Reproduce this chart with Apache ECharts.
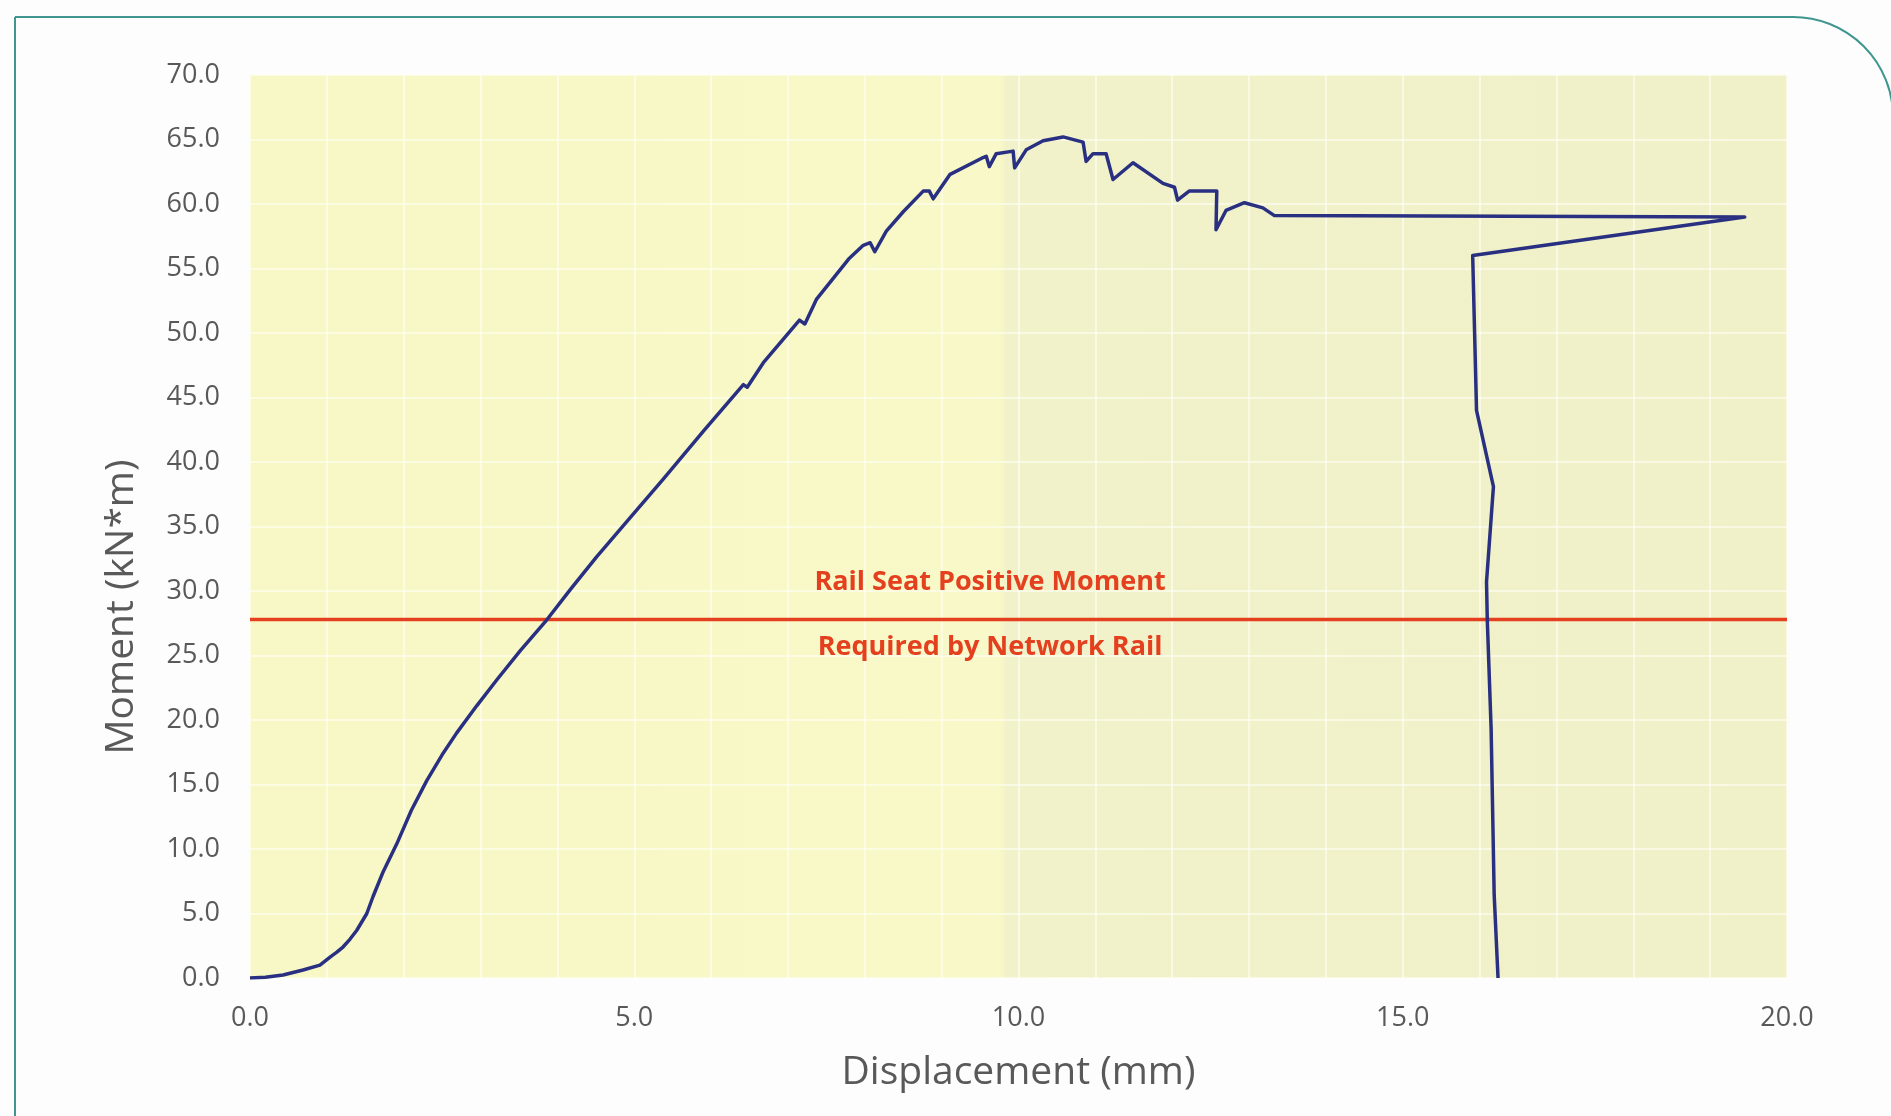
<!DOCTYPE html>
<html>
<head>
<meta charset="utf-8">
<script src="https://cdn.jsdelivr.net/npm/echarts@6/dist/echarts.min.js"></script>
<style>
  html, body { margin: 0; padding: 0; background: #fdfdfd; }
  #main { width: 1891px; height: 1116px; }
</style>
</head>
<body>
<div id="main"></div>
<script>
// 位移 (mm) / 弯矩 (kN*m)
var dispData = [0, 0.20, 0.43, 0.69, 0.91, 1.05, 1.13, 1.21, 1.30, 1.39, 1.52, 1.60, 1.73, 1.91, 2.10, 2.30, 2.50, 2.69,
    2.95, 3.21, 3.52, 3.86, 4.18, 4.51, 4.95, 5.38, 5.90, 6.42, 6.47, 6.68, 7.15, 7.22, 7.37, 7.80, 7.98, 8.07, 8.13,
    8.28, 8.50, 8.76, 8.84, 8.89, 9.11, 9.54, 9.58, 9.62, 9.71, 9.93, 9.95, 10.10, 10.32, 10.58, 10.84, 10.88, 10.97,
    11.14, 11.23, 11.49, 11.88, 12.03, 12.07, 12.22, 12.58, 12.57, 12.70, 12.94, 13.18, 13.33, 19.45, 15.91, 15.96,
    16.18, 16.09, 16.10, 16.15, 16.19, 16.24];
var momentData = [0, 0.05, 0.23, 0.62, 1.0, 1.66, 2.0, 2.4, 3.0, 3.7, 5.0, 6.3, 8.2, 10.4, 13.0, 15.3, 17.3, 19.0,
    21.1, 23.1, 25.4, 27.75, 30.2, 32.65, 35.7, 38.7, 42.4, 46.0, 45.8, 47.7, 51.0, 50.7, 52.6, 55.8, 56.8, 57.0, 56.3,
    57.9, 59.4, 61.0, 61.0, 60.4, 62.3, 63.6, 63.7, 62.9, 63.9, 64.1, 62.8, 64.2, 64.9, 65.2, 64.8, 63.3, 63.9,
    63.9, 61.9, 63.2, 61.6, 61.3, 60.3, 61.0, 61.0, 58.0, 59.5, 60.1, 59.7, 59.1, 59.0, 56.0, 44.0,
    38.1, 30.7, 27.75, 19.3, 6.4, 0];
var requiredMoment = 27.8;
var xTicks = { min: 0, max: 20, step: 5 };
var yTicks = { min: 0, max: 70, step: 5 };
var labelTop = 'Rail Seat Positive Moment';
var labelBottom = 'Required by Network Rail';
var labelX = 9.63;

var curve = [];
for (var i = 0; i < dispData.length; i++) {
    curve.push([dispData[i], momentData[i]]);
}

var dom = document.getElementById('main');
var myChart = echarts.init(dom);
var txtColor = '#595959';
var gridColor = 'rgba(255, 255, 245, 0.8)';

myChart.setOption({
    backgroundColor: '#fdfdfd',
    animation: false,
    textStyle: { fontFamily: 'Open Sans' },
    graphic: [
        {
            // 外框
            type: 'rect',
            shape: { x: 15, y: 17, width: 1878, height: 1200, r: [0, 100, 0, 0] },
            style: { fill: 'none', stroke: '#3f968f', lineWidth: 2 },
            z: -1
        },
        {
            // y轴标题
            type: 'text',
            x: 122,
            y: 607,
            rotation: Math.PI / 2,
            style: {
                text: 'Moment (kN*m)',
                fill: txtColor,
                font: '39px "Open Sans"',
                align: 'center',
                verticalAlign: 'middle'
            }
        }
    ],
    grid: {
        left: 250,
        right: 104,
        top: 75,
        bottom: 138,
        show: true,
        borderWidth: 0,
        backgroundColor: {
            type: 'linear', x: 0, y: 0, x2: 1, y2: 0,
            colorStops: [
                { offset: 0, color: '#f8f8c6' },
                { offset: 0.488, color: '#f8f8c8' },
                { offset: 0.492, color: '#f1f2c9' },
                { offset: 1, color: '#f0f1c8' }
            ]
        }
    },
    xAxis: {
        type: 'value',
        min: xTicks.min,
        max: xTicks.max,
        interval: xTicks.step,
        name: 'Displacement (mm)',
        nameLocation: 'middle',
        nameGap: 75,
        nameTextStyle: { color: txtColor, fontSize: 39, fontFamily: 'Open Sans' },
        axisLine: { show: false },
        axisTick: { show: false },
        axisLabel: {
            color: txtColor,
            fontSize: 27,
            margin: 27,
            formatter: function (v) { return v.toFixed(1); }
        },
        splitLine: { show: true, lineStyle: { color: gridColor, width: 1.5 } },
        minorTick: { show: false, splitNumber: 5 },
        minorSplitLine: { show: true, lineStyle: { color: gridColor, width: 1.5 } }
    },
    yAxis: {
        type: 'value',
        min: yTicks.min,
        max: yTicks.max,
        interval: yTicks.step,
        axisLine: { show: false },
        axisTick: { show: false },
        axisLabel: {
            color: txtColor,
            fontSize: 27,
            margin: 30,
            formatter: function (v) { return v.toFixed(1); }
        },
        splitLine: { show: true, lineStyle: { color: gridColor, width: 1.5 } }
    },
    series: [
        {
            name: 'required',
            type: 'line',
            data: [[xTicks.min, requiredMoment], [xTicks.max, requiredMoment]],
            symbol: 'none',
            lineStyle: { color: '#e4401f', width: 3.5 },
            z: 2,
            markPoint: {
                symbol: 'rect',
                symbolSize: 0,
                label: {
                    show: true,
                    color: '#e4401f',
                    fontSize: 27,
                    fontWeight: 'bold',
                    fontFamily: 'Open Sans'
                },
                data: [
                    { coord: [labelX, requiredMoment], label: { formatter: labelTop, offset: [0, -37] } },
                    { coord: [labelX, requiredMoment], label: { formatter: labelBottom, offset: [0, 28] } }
                ]
            }
        },
        {
            name: 'moment',
            type: 'line',
            data: curve,
            symbol: 'none',
            lineStyle: { color: '#2a3081', width: 3.5, join: 'round' },
            z: 3
        }
    ]
});
window.addEventListener('resize', function () {
    myChart.resize();
});
</script>
</body>
</html>
